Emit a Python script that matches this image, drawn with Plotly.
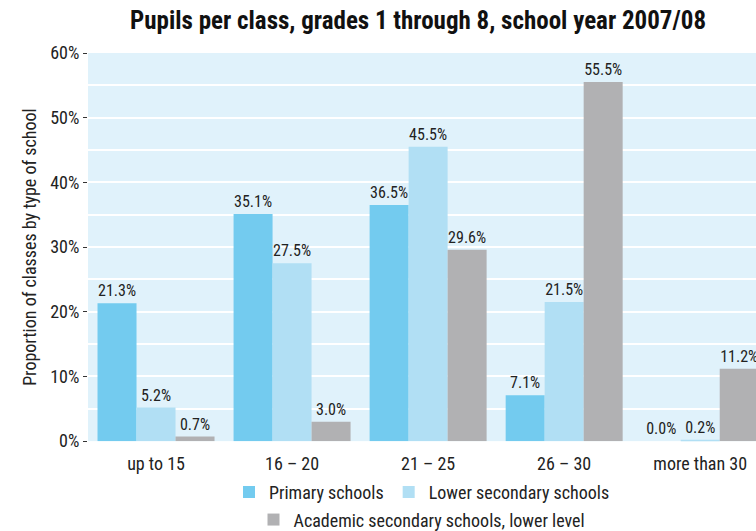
import plotly.graph_objects as go

categories = ["up to 15", "16 – 20", "21 – 25", "26 – 30", "more than 30"]
primary = [21.3, 35.1, 36.5, 7.1, 0.0]
lower_secondary = [5.2, 27.5, 45.5, 21.5, 0.2]
academic = [0.7, 3.0, 29.6, 55.5, 11.2]

FONT = "Liberation Sans Narrow, Arial Narrow, Roboto Condensed, Liberation Sans, sans-serif"

fig = go.Figure()
series = [
    ("Primary schools", primary, "#73CBEF", "legend"),
    ("Lower secondary schools", lower_secondary, "#B1DFF4", "legend"),
    ("Academic secondary schools, lower level", academic, "#B1B1B3", "legend2"),
]
for name, vals, col, leg in series:
    fig.add_trace(go.Bar(
        x=categories, y=vals, name=name, marker_color=col, marker_line_width=0,
        text=[f"{v:.1f}%" for v in vals], textposition="outside",
        textfont=dict(size=16, color="#222222", family=FONT),
        cliponaxis=False, legend=leg,
    ))

fig.update_layout(
    width=756, height=531,
    margin=dict(l=88, r=0, t=53, b=88),
    paper_bgcolor="white", plot_bgcolor="#E0F2FB",
    font=dict(family=FONT, size=18, color="#222222"),
    title=dict(text="<b>Pupils per class, grades 1 through 8, school year 2007/08</b>",
               x=0.553, xanchor="center", y=0.962, yanchor="middle",
               font=dict(size=25, color="#111111")),
    barmode="group", bargap=0.14, bargroupgap=0,
    legend=dict(orientation="h", x=0.5, xanchor="center", yref="container", y=0.073,
                yanchor="middle", font=dict(size=18), itemwidth=30, bgcolor="rgba(0,0,0,0)"),
    legend2=dict(orientation="h", x=0.5, xanchor="center", yref="container", y=0.021,
                 yanchor="middle", font=dict(size=18), itemwidth=30, bgcolor="rgba(0,0,0,0)"),
    showlegend=True,
)
# last category runs past the right edge, like in the original
fig.update_xaxes(range=[-0.5, 4.41], showgrid=False, ticks="outside", ticklen=6,
                 tickcolor="rgba(0,0,0,0)", tickfont=dict(size=18))
fig.update_yaxes(
    range=[0, 60], dtick=10, ticksuffix="%", ticks="outside", ticklen=4, tickcolor="#333333",
    showgrid=True, gridcolor="white", gridwidth=2,
    minor=dict(dtick=5, showgrid=True, gridcolor="white", gridwidth=2),
    zeroline=False, tickfont=dict(size=18),
    title=dict(text="Proportion of classes by type of school", font=dict(size=18), standoff=8),
)

# drop the default page margin so the figure fills the window
fig.write_html("out.html",
               config={"responsive": False, "displayModeBar": False},
               post_script="document.body.style.margin='0';document.body.style.overflow='hidden';")
